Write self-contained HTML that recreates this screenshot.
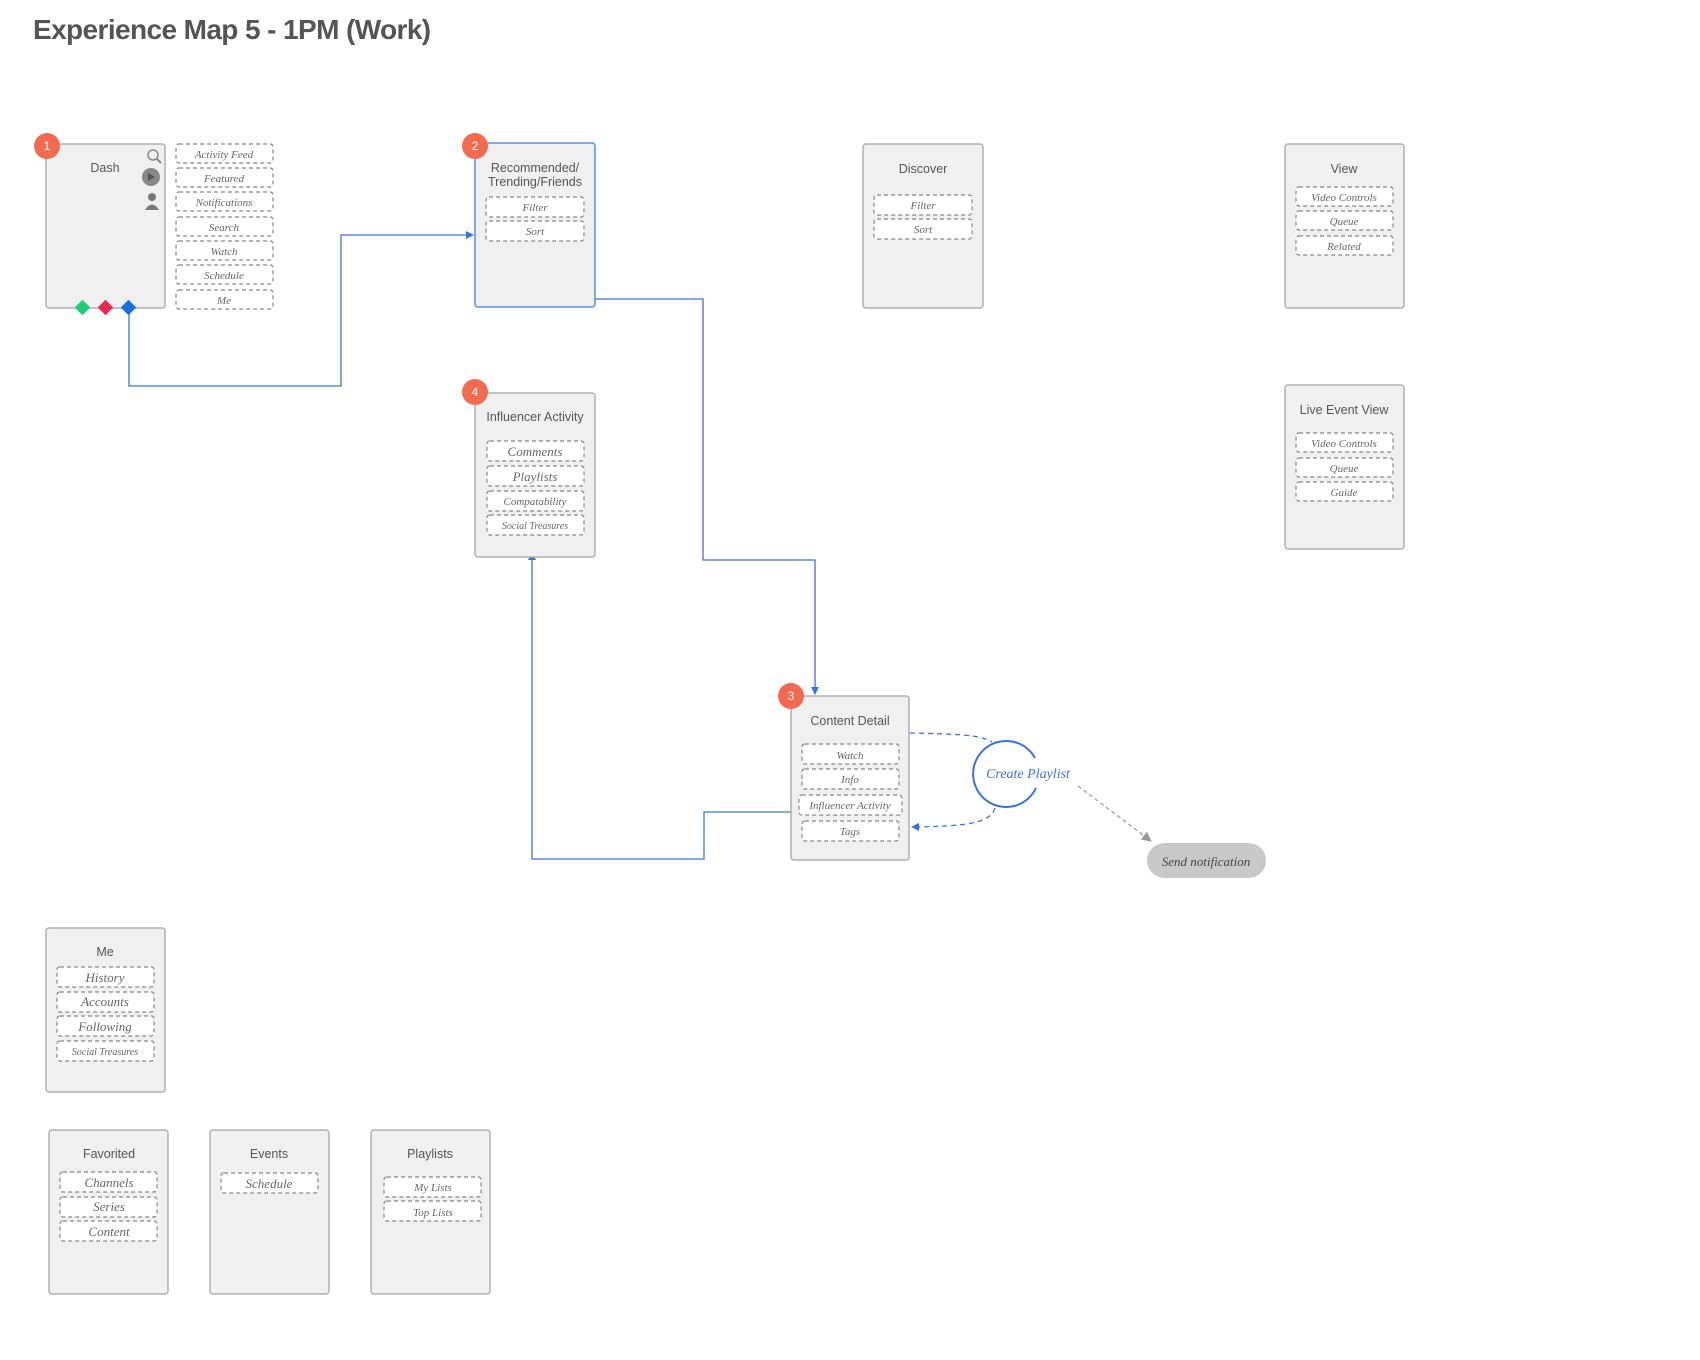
<!DOCTYPE html>
<html><head><meta charset="utf-8"><style>
html,body{margin:0;padding:0;background:#fff;width:1700px;height:1360px;overflow:hidden}
svg{display:block}
.box{fill:#f0f0f0;stroke:#b0b0b0;stroke-width:1.5}
.bt{font-family:"Liberation Sans",sans-serif;font-size:12.5px;fill:#555;text-anchor:middle}
.it{fill:#fff;stroke:#888;stroke-width:1.2;stroke-dasharray:4,3}
.il{font-family:"Liberation Serif",serif;font-style:italic;font-size:11px;fill:#666;text-anchor:middle}
.badge{fill:#f26b50}
.bn{font-family:"Liberation Sans",sans-serif;font-size:12px;fill:#fff;text-anchor:middle}
.ln{fill:none;stroke:#3a73dc;stroke-width:1.3}
</style></head><body>
<svg width="1700" height="1360" viewBox="0 0 1700 1360" xmlns="http://www.w3.org/2000/svg">
<defs>
<marker id="ab" markerWidth="8" markerHeight="8" refX="7" refY="4" orient="auto" markerUnits="userSpaceOnUse"><path d="M0,0 L8,4 L0,8 z" fill="#3a73dc"/></marker>
<marker id="ag" markerWidth="10" markerHeight="10" refX="9" refY="5" orient="auto" markerUnits="userSpaceOnUse"><path d="M0,0 L10,5 L0,10 z" fill="#999"/></marker>
</defs>
<text x="33" y="39" font-family="Liberation Sans,sans-serif" font-size="28" font-weight="bold" fill="#555" style="letter-spacing:-0.6px">Experience Map 5 - 1PM (Work)</text>

<!-- connectors -->
<polyline class="ln" points="129,310 129,386 341,386 341,235 473,235" marker-end="url(#ab)"/>
<polyline class="ln" points="595,299 703,299 703,560 815,560 815,694" marker-end="url(#ab)"/>
<polyline class="ln" points="791,812 704,812 704,859 532,859 532,553" marker-end="url(#ab)"/>
<path d="M910,733 C950,734 980,734 992,742" fill="none" stroke="#3a73dc" stroke-width="1.3" stroke-dasharray="5,4"/>
<path d="M995,808 C990,825 960,826 912,827" fill="none" stroke="#3a73dc" stroke-width="1.3" stroke-dasharray="5,4" marker-end="url(#ab)"/>
<line x1="1078" y1="786" x2="1151" y2="841" stroke="#999" stroke-width="1.2" stroke-dasharray="4,3" marker-end="url(#ag)"/>

<!-- Dash -->
<rect class="box" x="46" y="144" width="119" height="164" rx="3"/>
<text class="bt" x="105" y="172">Dash</text>
<circle cx="153" cy="155" r="5" fill="none" stroke="#888" stroke-width="1.5"/><line x1="157" y1="159" x2="161" y2="163" stroke="#888" stroke-width="2"/>
<circle cx="151" cy="177" r="9" fill="#888"/><path d="M148,173 L155,177 L148,181z" fill="#555"/>
<circle cx="152" cy="197" r="4" fill="#777"/><path d="M145,210 Q152,199 159,210z" fill="#777"/>
<circle class="badge" cx="47" cy="146" r="13"/><text class="bn" x="47" y="150">1</text>
<rect x="77" y="302" width="11" height="11" fill="#1fcf78" transform="rotate(45 82.5 307.5)"/>
<rect x="100" y="302" width="11" height="11" fill="#e2294f" transform="rotate(45 105.5 307.5)"/>
<rect x="123" y="302" width="11" height="11" fill="#1c6fe0" transform="rotate(45 128.5 307.5)"/>
<g>
<rect class="it" x="176" y="144" width="97" height="19" rx="3"/><text class="il" x="224" y="158">Activity Feed</text>
<rect class="it" x="176" y="168" width="97" height="19" rx="3"/><text class="il" x="224" y="182">Featured</text>
<rect class="it" x="176" y="192" width="97" height="19" rx="3"/><text class="il" x="224" y="206">Notifications</text>
<rect class="it" x="176" y="217" width="97" height="19" rx="3"/><text class="il" x="224" y="231">Search</text>
<rect class="it" x="176" y="241" width="97" height="19" rx="3"/><text class="il" x="224" y="255">Watch</text>
<rect class="it" x="176" y="265" width="97" height="19" rx="3"/><text class="il" x="224" y="279">Schedule</text>
<rect class="it" x="176" y="290" width="97" height="19" rx="3"/><text class="il" x="224" y="304">Me</text>
</g>

<!-- Recommended -->
<rect class="box" x="475" y="143" width="120" height="164" rx="3" style="stroke:#5b8de6"/>
<text class="bt" x="535" y="172">Recommended/</text><text class="bt" x="535" y="186">Trending/Friends</text>
<rect class="it" x="486" y="197" width="98" height="20" rx="3"/><text class="il" x="535" y="211">Filter</text>
<rect class="it" x="486" y="221" width="98" height="20" rx="3"/><text class="il" x="535" y="235">Sort</text>
<circle class="badge" cx="475" cy="146" r="13"/><text class="bn" x="475" y="150">2</text>

<!-- Discover -->
<rect class="box" x="863" y="144" width="120" height="164" rx="3"/>
<text class="bt" x="923" y="173">Discover</text>
<rect class="it" x="874" y="195" width="98" height="20" rx="3"/><text class="il" x="923" y="209">Filter</text>
<rect class="it" x="874" y="219" width="98" height="20" rx="3"/><text class="il" x="923" y="233">Sort</text>

<!-- View -->
<rect class="box" x="1285" y="144" width="119" height="164" rx="3"/>
<text class="bt" x="1344" y="173">View</text>
<rect class="it" x="1296" y="187" width="97" height="19" rx="3"/><text class="il" x="1344" y="201">Video Controls</text>
<rect class="it" x="1296" y="211" width="97" height="19" rx="3"/><text class="il" x="1344" y="225">Queue</text>
<rect class="it" x="1296" y="236" width="97" height="19" rx="3"/><text class="il" x="1344" y="250">Related</text>

<!-- Live Event View -->
<rect class="box" x="1285" y="385" width="119" height="164" rx="3"/>
<text class="bt" x="1344" y="414">Live Event View</text>
<rect class="it" x="1296" y="433" width="97" height="19" rx="3"/><text class="il" x="1344" y="447">Video Controls</text>
<rect class="it" x="1296" y="458" width="97" height="19" rx="3"/><text class="il" x="1344" y="472">Queue</text>
<rect class="it" x="1296" y="482" width="97" height="19" rx="3"/><text class="il" x="1344" y="496">Guide</text>

<!-- Influencer Activity -->
<rect class="box" x="475" y="393" width="120" height="164" rx="3"/>
<text class="bt" x="535" y="421">Influencer Activity</text>
<rect class="it" x="487" y="441" width="97" height="20" rx="3"/><text class="il" x="535" y="456" style="font-size:13px">Comments</text>
<rect class="it" x="487" y="466" width="97" height="20" rx="3"/><text class="il" x="535" y="481" style="font-size:13px">Playlists</text>
<rect class="it" x="487" y="491" width="97" height="20" rx="3"/><text class="il" x="535" y="505">Compatability</text>
<rect class="it" x="487" y="515" width="97" height="20" rx="3"/><text class="il" x="535" y="529" style="font-size:10px">Social Treasures</text>
<circle class="badge" cx="475" cy="392" r="13"/><text class="bn" x="475" y="396">4</text>

<!-- Content Detail -->
<rect class="box" x="791" y="696" width="118" height="164" rx="3"/>
<text class="bt" x="850" y="725">Content Detail</text>
<rect class="it" x="802" y="744" width="97" height="20" rx="3"/><text class="il" x="850" y="759">Watch</text>
<rect class="it" x="802" y="769" width="97" height="20" rx="3"/><text class="il" x="850" y="783">Info</text>
<rect class="it" x="799" y="795" width="103" height="20" rx="3"/><text class="il" x="850" y="809">Influencer Activity</text>
<rect class="it" x="802" y="821" width="97" height="20" rx="3"/><text class="il" x="850" y="835">Tags</text>
<circle class="badge" cx="791" cy="696" r="13"/><text class="bn" x="791" y="700">3</text>

<!-- Create Playlist -->
<path d="M1035,758 A33,33 0 1,0 1036,788" fill="none" stroke="#3a73dc" stroke-width="2"/>
<text x="1028" y="778" font-family="Liberation Serif,serif" font-style="italic" font-size="14" fill="#3a73dc" text-anchor="middle">Create Playlist</text>

<!-- Send notification -->
<rect x="1147" y="843" width="119" height="35" rx="17.5" fill="#c8c8c8"/>
<text x="1206" y="866" font-family="Liberation Serif,serif" font-style="italic" font-size="13" fill="#444" text-anchor="middle">Send notification</text>

<!-- Me -->
<rect class="box" x="46" y="928" width="119" height="164" rx="3"/>
<text class="bt" x="105" y="956">Me</text>
<rect class="it" x="57" y="967" width="97" height="20" rx="3"/><text class="il" x="105" y="982" style="font-size:13px">History</text>
<rect class="it" x="57" y="992" width="97" height="20" rx="3"/><text class="il" x="105" y="1006" style="font-size:13px">Accounts</text>
<rect class="it" x="57" y="1016" width="97" height="20" rx="3"/><text class="il" x="105" y="1031" style="font-size:13px">Following</text>
<rect class="it" x="57" y="1041" width="97" height="20" rx="3"/><text class="il" x="105" y="1055" style="font-size:10px">Social Treasures</text>

<!-- Favorited -->
<rect class="box" x="49" y="1130" width="119" height="164" rx="3"/>
<text class="bt" x="109" y="1158">Favorited</text>
<rect class="it" x="60" y="1172" width="97" height="20" rx="3"/><text class="il" x="109" y="1187" style="font-size:13px">Channels</text>
<rect class="it" x="60" y="1197" width="97" height="20" rx="3"/><text class="il" x="109" y="1211" style="font-size:13px">Series</text>
<rect class="it" x="60" y="1221" width="97" height="20" rx="3"/><text class="il" x="109" y="1236" style="font-size:13px">Content</text>

<!-- Events -->
<rect class="box" x="210" y="1130" width="119" height="164" rx="3"/>
<text class="bt" x="269" y="1158">Events</text>
<rect class="it" x="221" y="1173" width="97" height="20" rx="3"/><text class="il" x="269" y="1188" style="font-size:13px">Schedule</text>

<!-- Playlists -->
<rect class="box" x="371" y="1130" width="119" height="164" rx="3"/>
<text class="bt" x="430" y="1158">Playlists</text>
<rect class="it" x="384" y="1177" width="97" height="20" rx="3"/><text class="il" x="433" y="1191">My Lists</text>
<rect class="it" x="384" y="1201" width="97" height="20" rx="3"/><text class="il" x="433" y="1216">Top Lists</text>
</svg>
</body></html>
